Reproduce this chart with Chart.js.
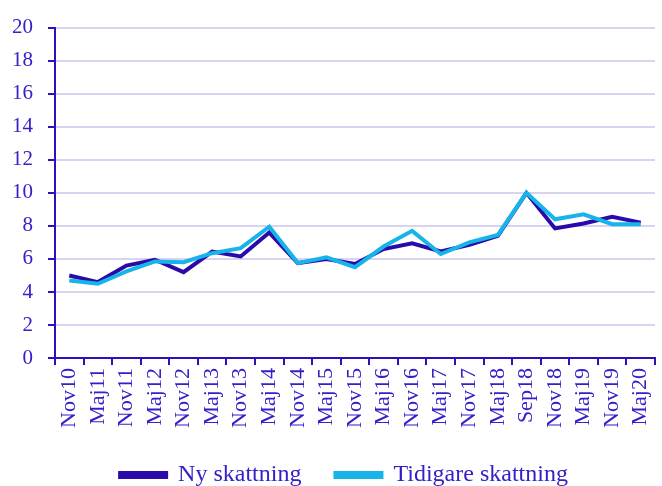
<!DOCTYPE html>
<html>
<head>
<meta charset="utf-8">
<script src="https://cdn.jsdelivr.net/npm/chart.js@4"></script>
<style>
  html, body { margin: 0; padding: 0; background: #ffffff; }
  #wrap { width: 662px; height: 486px; position: relative; }
</style>
</head>
<body>
<div id="wrap"><canvas id="c"></canvas></div>
<script>
const categories = ["Nov10","Maj11","Nov11","Maj12","Nov12","Maj13","Nov13","Maj14","Nov14","Maj15","Nov15","Maj16","Nov16","Maj17","Nov17","Maj18","Sep18","Nov18","Maj19","Nov19","Maj20"];
const nySkattning = [5.0, 4.6, 5.6, 5.95, 5.2, 6.45, 6.15, 7.6, 5.75, 6.0, 5.7, 6.6, 6.95, 6.45, 6.85, 7.4, 10.0, 7.85, 8.15, 8.55, 8.2];
const tidigareSkattning = [4.7, 4.5, 5.25, 5.85, 5.8, 6.35, 6.65, 7.95, 5.75, 6.1, 5.5, 6.75, 7.7, 6.3, 7.0, 7.45, 10.0, 8.4, 8.7, 8.1, 8.1];
const yTicks = [0, 2, 4, 6, 8, 10, 12, 14, 16, 18, 20];

const textColor = "#3320c8";
const axisColor = "#2a12c0";
const darkLine = "#2a0aa8";
const lightLine = "#17b4ea";
const gridColor = "#d6d4f0";
const fontFamily = "'Liberation Serif', serif";

const legendShift = {
  id: "legendShift",
  afterLayout(chart) {
    const lg = chart.legend;
    if (!lg) return;
    lg.left += 18; lg.right += 18;
    lg.top -= 2; lg.bottom -= 2;
  }
};

new Chart(document.getElementById("c"), {
  type: "line",
  data: {
    labels: categories,
    datasets: [
      { label: "Ny skattning", data: nySkattning, borderColor: darkLine, backgroundColor: darkLine, borderWidth: 4, pointRadius: 0, tension: 0, order: 1 },
      { label: "Tidigare skattning", data: tidigareSkattning, borderColor: lightLine, backgroundColor: lightLine, borderWidth: 4, pointRadius: 0, tension: 0, order: 0 }
    ]
  },
  plugins: [legendShift],
  options: {
    responsive: true,
    maintainAspectRatio: false,
    animation: false,
    layout: { padding: { top: 9, right: 7, bottom: -13, left: -3 } },
    plugins: {
      tooltip: { enabled: false },
      legend: {
        position: "bottom",
        labels: {
          color: textColor,
          font: { family: fontFamily, size: 24 },
          boxWidth: 46,
          boxHeight: 4,
          padding: 34,
          sort: (a, b) => a.datasetIndex - b.datasetIndex
        }
      }
    },
    scales: {
      x: {
        offset: true,
        afterFit: (s) => { s.paddingLeft = 0; s.paddingRight = 0; },
        grid: { display: true, drawOnChartArea: false, offset: true, tickLength: 7, color: axisColor, lineWidth: 2 },
        border: { display: true, color: axisColor, width: 2 },
        ticks: { color: textColor, font: { family: fontFamily, size: 22 }, maxRotation: 90, minRotation: 90, autoSkip: false, padding: 3 }
      },
      y: {
        min: 0, max: 20,
        afterBuildTicks: (s) => { s.ticks = yTicks.map(v => ({ value: v })); },
        grid: { color: gridColor, lineWidth: 2, tickLength: 7, tickColor: axisColor },
        border: { display: true, color: axisColor, width: 2 },
        ticks: { color: textColor, font: { family: fontFamily, size: 21 }, padding: 15 }
      }
    }
  }
});
</script>
</body>
</html>
